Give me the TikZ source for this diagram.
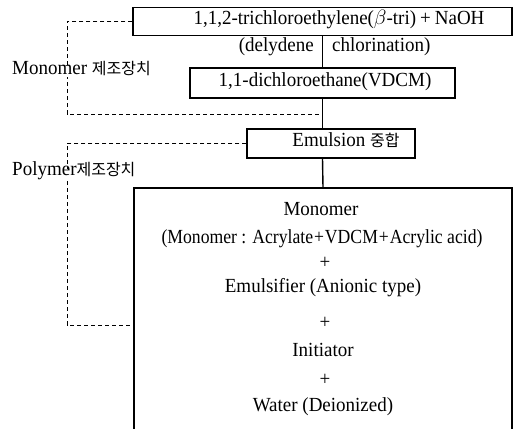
\documentclass[tikz,border=0pt]{standalone}
\usepackage{fontspec}
\setmainfont{Liberation Serif}[FakeStretch=0.95]
\newfontfamily\kr{Noto Sans CJK KR}[Scale=0.8]
\newcommand\mainsize{\fontsize{20}{23}\selectfont}
\tikzset{
  boxnode/.style={draw, line width=1.4pt, inner sep=0pt},
  txt/.style={inner sep=0pt, font=\mainsize, text height=0.7em, text depth=0.2em},
  dashline/.style={line width=0.9pt, dash pattern=on 4pt off 3pt},
  solidline/.style={line width=1.4pt}
}
\begin{document}
\begin{tikzpicture}[x=1pt,y=-1pt]
\useasboundingbox (0,0) rectangle (516,428);
\clip (0,0) rectangle (516,428);
% boxes
\node[boxnode, minimum width=379pt, minimum height=28pt] (b1) at (322.5,21.5) {};
\node[boxnode, minimum width=265pt, minimum height=30pt] (b2) at (322.5,83) {};
\node[boxnode, minimum width=168pt, minimum height=29pt] (emu) at (331,143.5) {};
\node[boxnode, minimum width=378pt, minimum height=262pt] (big) at (323,319) {};
% box texts
\node[txt] (t1) at (339,22) {1,1,2-trichloroethylene($\beta$-tri)\hspace{4pt}+\hspace{4pt}NaOH};
\node[txt] (t2) at (325,83.5) {1,1-dichloroethane(VDCM)};
\node[txt] (t3) at (346,144) {Emulsion {\kr 중합}};
\node[txt, anchor=east] (d1) at (314,49) {(delydene};
\node[txt, anchor=west] (d2) at (332,49) {chlorination)};
% big box texts
\node[txt] (m1) at (321,213) {Monomer};
\node[txt, xscale=0.93, transform shape] (m2) at (322,241) {(Monomer : Acrylate\hspace{1pt}+\hspace{1pt}VDCM\hspace{1pt}+\hspace{1pt}Acrylic acid)};
\node[txt] (p1) at (325,266) {+};
\node[txt] (m3) at (323,290) {Emulsifier (Anionic type)};
\node[txt] (p2) at (325,326) {+};
\node[txt] (m4) at (323,354) {Initiator};
\node[txt] (p3) at (325,383) {+};
\node[txt] (m5) at (323,409) {Water (Deionized)};
% connectors
\coordinate (c1) at (322.5,114);
\draw[solidline] (b1.south) -- (b2.north);
\draw[solidline] (b2.south) -- (emu.north -| b2.south);
\draw[solidline] (emu.south -| b2.south) -- (big.north);
% dashed groupings
\coordinate (g1a) at (67,21.5);
\coordinate (g1b) at (67,114);
\draw[dashline] (b1.west) -- (g1a) -- (g1b) -- (c1);
\coordinate (g2a) at (67,143.5);
\coordinate (g2b) at (67,325);
\coordinate (g2c) at (134,325);
\draw[dashline] (emu.west) -- (g2a) -- (g2b) -- (g2c);
% group labels
\node[txt, anchor=west, fill=white, inner xsep=1pt] (l1) at (11,72) {Monomer {\kr 제조장치}};
\node[txt, anchor=west, fill=white, inner xsep=1pt] (l2) at (11,173) {Polymer{\kr 제조장치}};
\end{tikzpicture}
\end{document}
